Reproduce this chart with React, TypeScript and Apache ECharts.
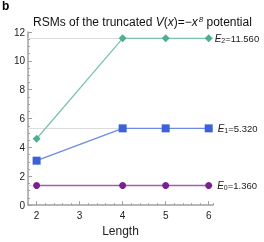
import React, { useEffect, useRef } from "react";
import * as echarts from "echarts";

const lengths = [2, 4, 5, 6];
const e2Values = [4.6, 11.56, 11.56, 11.56];
const e1Values = [3.08, 5.32, 5.32, 5.32];
const e0Values = [1.36, 1.36, 1.36, 1.36];
const xTickLabels = [2, 3, 4, 5, 6];
const seriesNames = ["E2", "E1", "E0"];
const subscripts = ["2", "1", "0"];

const FONT = "Liberation Sans, Arial, sans-serif";

export default function App() {
  const ref = useRef<HTMLDivElement>(null);
  useEffect(() => {
    if (!ref.current) return;
    const chart = echarts.init(ref.current, null, { renderer: "svg" });
    const all = [e2Values, e1Values, e0Values];
    const markerColors = ["#4fae8d", "#3b62d8", "#7a1f8f"];
    const lineColors = ["#7cc4aa", "#6b8ce4", "#a35db2"];
    const symbols = ["diamond", "rect", "circle"];
    const sizes = [8, 8, 7];
    const series: any[] = all.map((vals, i) => {
      const last = vals[vals.length - 1];
      return {
        name: seriesNames[i],
        type: "line",
        xAxisIndex: 0,
        data: vals.map((v, j) => {
          const pt: any = { value: [lengths[j], v] };
          if (j === vals.length - 1) {
            pt.label = {
              show: true,
              position: "right",
              distance: i === 0 ? 2 : 5,
              formatter: `{e|E}{s|${subscripts[i]}}{n|=${last.toFixed(3)}}`,
              rich: {
                e: { fontFamily: FONT, fontSize: 10, fontStyle: "italic", color: "#222" },
                s: { fontFamily: FONT, fontSize: 7, color: "#222", padding: [4, 0, 0, 0] },
                n: { fontFamily: FONT, fontSize: 9.5, color: "#222" },
              },
            };
          }
          return pt;
        }),
        symbol: symbols[i],
        symbolSize: sizes[i],
        itemStyle: { color: markerColors[i] },
        lineStyle: { color: lineColors[i], width: 1.3 },
        z: 3,
        markLine: {
          silent: true,
          symbol: "none",
          label: { show: false },
          lineStyle: { color: "#dcdcdc", width: 1, type: "solid" },
          data: [{ yAxis: last }],
          z: 1,
        },
      };
    });
    chart.setOption({
      animation: false,
      textStyle: { fontFamily: FONT },
      grid: { left: 28, right: 51, top: 32, bottom: 31, containLabel: false },
      graphic: {
        elements: [
          {
            type: "text",
            left: 2,
            top: 0,
            z: 10,
            style: {
              text: "b",
              fontFamily: FONT,
              fontSize: 12,
              fontWeight: "bold",
              fill: "#000",
            },
          },
        ],
      },
      title: {
        text: "RSMs of the truncated {i|V}({i|x})=−{i|x}{sup|8} potential",
        left: 33,
        top: 15,
        padding: 0,
        textStyle: {
          fontFamily: FONT,
          fontSize: 12,
          fontWeight: "normal",
          color: "#111",
          rich: {
            i: { fontFamily: FONT, fontSize: 12, fontStyle: "italic", color: "#111" },
            sup: { fontFamily: FONT, fontSize: 8, fontStyle: "italic", color: "#111", padding: [0, 0, 6, 1] },
          },
        },
      },
      xAxis: [
        {
          type: "value",
          min: 1.8,
          max: 6.1,
          interval: 0.2,
          name: "Length",
          nameLocation: "middle",
          nameGap: 19,
          nameTextStyle: { fontFamily: FONT, fontSize: 12, color: "#222" },
          axisLine: { show: true, onZero: false, lineStyle: { color: "#a0a0a0", width: 1.5 } },
          axisTick: { show: true, inside: true, length: 2, lineStyle: { color: "#a0a0a0" } },
          axisLabel: {
            fontFamily: FONT,
            fontSize: 10,
            color: "#222",
            margin: 5,
            formatter: (v: number) => {
              const r = Math.round(v);
              return Math.abs(v - r) < 1e-6 && xTickLabels.includes(r) ? String(r) : "";
            },
          },
          splitLine: { show: false },
        },
        {
          type: "value",
          min: 1.8,
          max: 6.1,
          position: "bottom",
          axisLine: { show: false },
          axisTick: {
            show: true,
            inside: true,
            length: 4,
            customValues: xTickLabels,
            lineStyle: { color: "#a0a0a0" },
          },
          axisLabel: { show: false },
          splitLine: { show: false },
        },
      ],
      yAxis: {
        type: "value",
        min: 0,
        max: 12,
        interval: 2,
        axisLine: { show: true, lineStyle: { color: "#a0a0a0", width: 1.5 } },
        axisTick: { show: true, inside: true, length: 4, lineStyle: { color: "#a0a0a0" } },
        minorTick: { show: true, splitNumber: 4, length: 2, lineStyle: { color: "#a0a0a0" } },
        axisLabel: { fontFamily: FONT, fontSize: 10, color: "#222", margin: 3 },
        splitLine: { show: false },
      },
      series,
    });
    return () => chart.dispose();
  }, []);
  return (
    <div
      ref={ref}
      style={{ position: "fixed", left: 0, top: 0, width: 264, height: 242 }}
    />
  );
}
